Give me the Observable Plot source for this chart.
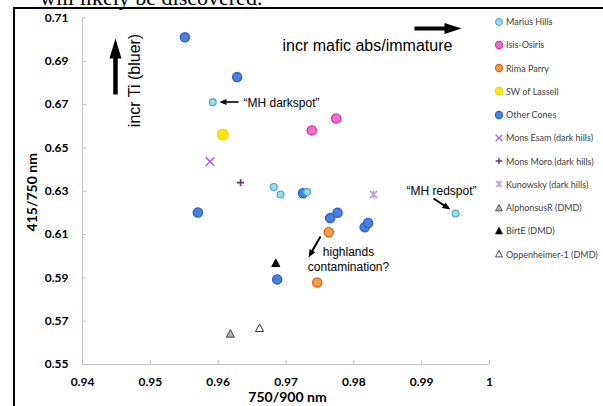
<!DOCTYPE html>
<html><head><meta charset="utf-8">
<script src="https://cdn.jsdelivr.net/npm/d3@7"></script>
<script src="https://cdn.jsdelivr.net/npm/@observablehq/plot@0.6"></script>
<style>
html,body{margin:0;padding:0;background:#fff;overflow:hidden;}
#wrap{position:relative;width:603px;height:406px;overflow:hidden;background:#fff;}
#chart{position:absolute;left:0;top:0;}
#frameL{position:absolute;left:13px;top:7px;width:2px;height:400px;background:#000;}
#frameT{position:absolute;left:13px;top:7px;width:590px;height:2px;background:#000;}
#above{position:absolute;left:40px;top:-13px;font:22px/22px "Liberation Serif",serif;color:#000;white-space:nowrap;}
#legend{position:absolute;left:494px;top:0;font:9px Lato,sans-serif;color:#404040;}
.row{position:absolute;left:0;height:12px;display:flex;align-items:center;white-space:nowrap;}
.row svg{flex:none;}
.row span{margin-left:2px;}
</style></head><body>
<div id="wrap">
 <div id="chart"></div>
 <div id="above">will likely be discovered.</div>
 <div id="frameL"></div><div id="frameT"></div>
 <div id="legend"></div>
</div>
<script>
// ---- data ----
const xTicks = [0.94, 0.95, 0.96, 0.97, 0.98, 0.99, 1];
const yTicks = [0.55, 0.57, 0.59, 0.61, 0.63, 0.65, 0.67, 0.69, 0.71];

const seriesNames = ["Marius Hills", "Isis-Osiris", "Rima Parry", "SW of Lassell", "Other Cones",
  "Mons Esam (dark hills)", "Mons Moro (dark hills)", "Kunowsky (dark hills)",
  "AlphonsusR (DMD)", "BirtE (DMD)", "Oppenheimer-1 (DMD)"];

const mariusHillsX = [0.9592, 0.9682, 0.9692, 0.9731, 0.9950];
const mariusHillsY = [0.6711, 0.6320, 0.6285, 0.6296, 0.6197];
const isisOsirisX = [0.9738, 0.9774];
const isisOsirisY = [0.6581, 0.6636];
const rimaParryX = [0.9763, 0.9746];
const rimaParryY = [0.6111, 0.5879];
const swLassellX = [0.9607];
const swLassellY = [0.6562];
const otherConesX = [0.9551, 0.9628, 0.9570, 0.9725, 0.9765, 0.9776, 0.9816, 0.9821, 0.9687];
const otherConesY = [0.7011, 0.6827, 0.6202, 0.6291, 0.6176, 0.6201, 0.6134, 0.6153, 0.5893];
const monsEsamX = [0.9588];
const monsEsamY = [0.6437];
const monsMoroX = [0.9633];
const monsMoroY = [0.6340];
const kunowskyX = [0.9829];
const kunowskyY = [0.6285];
const alphonsusX = [0.9618];
const alphonsusY = [0.5642];
const birtEX = [0.9685];
const birtEY = [0.5968];
const oppenheimerX = [0.9661];
const oppenheimerY = [0.5668];

// annotations (data coordinates)
const arrowFromX = [0.94486, 0.98894, 0.96300, 0.99174, 0.97509];
const arrowFromY = [0.67468, 0.70515, 0.67121, 0.62665, 0.60911];
const arrowToX   = [0.94486, 0.99587, 0.96020, 0.99425, 0.97332];
const arrowToY   = [0.70053, 0.70515, 0.67121, 0.62157, 0.59941];

const noteText = ["incr Ti (bluer)", "incr mafic abs/immature", "\u201cMH darkspot\u201d", "\u201cMH redspot\u201d", "highlands\ncontamination?"];
const noteX = [0.94752, 0.98201, 0.96373, 0.99292, 0.97921];
const noteY = [0.68114, 0.69776, 0.67121, 0.63035, 0.59895];

// ---- styles ----
const W = 603, H = 406, mL = 82, mR = 114, mT = 17.5, mB = 42;
const arrowStyle = [
  {w: 4.5, hw: 12, hl: 20}, {w: 4, hw: 11, hl: 17},
  {w: 1.6, hw: 6, hl: 7}, {w: 2, hw: 6.5, hl: 8}, {w: 2, hw: 6.5, hl: 8}
];
const noteStyle = [
  {size: 16, rotate: -90, anchor: "middle"}, {size: 16, rotate: 0, anchor: "middle"},
  {size: 12, rotate: 0, anchor: "start"}, {size: 12, rotate: 0, anchor: "middle"},
  {size: 12, rotate: 0, anchor: "middle"}
];

const sym = {
  tri: {draw(c, s) { const r = Math.sqrt(s / Math.PI); c.moveTo(0, -r * 1.05); c.lineTo(r, r * 0.85); c.lineTo(-r, r * 0.85); c.closePath(); }},
  times: {draw(c, s) { const r = Math.sqrt(s / Math.PI); c.moveTo(-r, -r); c.lineTo(r, r); c.moveTo(-r, r); c.lineTo(r, -r); }},
  plus: {draw(c, s) { const r = Math.sqrt(s / Math.PI); c.moveTo(-r, 0); c.lineTo(r, 0); c.moveTo(0, -r); c.lineTo(0, r); }},
  star: {draw(c, s) { const r = Math.sqrt(s / Math.PI); c.moveTo(-r, -r); c.lineTo(r, r); c.moveTo(-r, r); c.lineTo(r, -r); c.moveTo(0, -r * 1.2); c.lineTo(0, r * 1.2); }}
};

const seriesXs = [mariusHillsX, isisOsirisX, rimaParryX, swLassellX, otherConesX, monsEsamX, monsMoroX, kunowskyX, alphonsusX, birtEX, oppenheimerX];
const seriesYs = [mariusHillsY, isisOsirisY, rimaParryY, swLassellY, otherConesY, monsEsamY, monsMoroY, kunowskyY, alphonsusY, birtEY, oppenheimerY];
const seriesStyle = [
  {symbol: "circle", r: 3.4, fill: "#9edbeb", stroke: "#4aa9c8", sw: 1.2, lr: 3.4},
  {symbol: "circle", r: 4.6, fill: "#f36cc9", stroke: "#de2ea3", sw: 1.3, lr: 3.6},
  {symbol: "circle", r: 4.6, fill: "#f39c52", stroke: "#cf650f", sw: 1.3, lr: 3.6},
  {symbol: "circle", r: 5.3, fill: "#ffe900", stroke: "#f2d300", sw: 1.2, lr: 3.8},
  {symbol: "circle", r: 4.6, fill: "#4e80d4", stroke: "#1f5de6", sw: 1.3, lr: 3.6},
  {symbol: sym.times, r: 4.2, fill: "none", stroke: "#b463ef", sw: 1.6, lr: 3.3},
  {symbol: sym.plus, r: 3.6, fill: "none", stroke: "#772a80", sw: 1.6, lr: 3.3},
  {symbol: sym.star, r: 3.6, fill: "none", stroke: "#b8a2db", sw: 1.6, lr: 3.0},
  {symbol: sym.tri, r: 4, fill: "#b5b5b5", stroke: "#444", sw: 1, lr: 3.4},
  {symbol: sym.tri, r: 4, fill: "#000", stroke: "#000", sw: 1, lr: 3.4},
  {symbol: sym.tri, r: 4, fill: "#fff", stroke: "#333", sw: 1, lr: 3.4}
];

// ---- build ----
const px = d3.scaleLinear([0.94, 1], [mL, W - mR]);
const py = d3.scaleLinear([0.55, 0.71], [H - mB, mT]);

const drawOrder = [4, 0, 1, 2, 3, 5, 6, 7, 8, 9, 10];
const dotMarks = drawOrder.map(i => {
  const st = seriesStyle[i];
  const rows = seriesXs[i].map((x, j) => ({x, y: seriesYs[i][j], series: seriesNames[i]}));
  return Plot.dot(rows, {x: "x", y: "y", symbol: st.symbol, r: st.r, fill: st.fill, stroke: st.stroke, strokeWidth: st.sw});
});

const arrowMarks = [];
arrowFromX.forEach((x1, i) => {
  const st = arrowStyle[i];
  const X1 = px(x1), Y1 = py(arrowFromY[i]), X2 = px(arrowToX[i]), Y2 = py(arrowToY[i]);
  const dx = X2 - X1, dy = Y2 - Y1, L = Math.hypot(dx, dy), ux = dx / L, uy = dy / L;
  const ex = px.invert(X2 - ux * st.hl * 0.6), ey = py.invert(Y2 - uy * st.hl * 0.6);
  const angle = Math.atan2(dx, -dy) * 180 / Math.PI;
  const head = {draw(c) { c.moveTo(0, 0); c.lineTo(st.hw / 2, st.hl); c.lineTo(-st.hw / 2, st.hl); c.closePath(); }};
  arrowMarks.push(Plot.link([{x1, y1: arrowFromY[i], x2: ex, y2: ey}], {x1: "x1", y1: "y1", x2: "x2", y2: "y2", stroke: "#000", strokeWidth: st.w}));
  arrowMarks.push(Plot.dot([{x: arrowToX[i], y: arrowToY[i]}], {x: "x", y: "y", symbol: head, rotate: angle, fill: "#000", stroke: "none", r: 3}));
});

const noteMarks = noteText.map((t, i) => Plot.text([{x: noteX[i], y: noteY[i], t}], {
  x: "x", y: "y", text: "t", fontSize: noteStyle[i].size, rotate: noteStyle[i].rotate,
  textAnchor: noteStyle[i].anchor, lineAnchor: "middle", lineHeight: 1.3,
  fontFamily: "Liberation Sans, Arial, sans-serif", fill: "#000"
}));

const chart = Plot.plot({
  width: W, height: H,
  marginLeft: mL, marginRight: mR, marginTop: mT, marginBottom: mB,
  style: {background: "transparent", fontFamily: "Lato, sans-serif", fontSize: "12px", color: "#000", overflow: "visible"},
  x: {domain: [0.94, 1]},
  y: {domain: [0.55, 0.71]},
  marks: [
    Plot.ruleX([0.94], {y1: 0.55, y2: 0.71, stroke: "#c4c4c4", strokeWidth: 1}),
    Plot.ruleY([0.55], {x1: 0.94, x2: 1, stroke: "#c4c4c4", strokeWidth: 1}),
    Plot.ruleX(xTicks, {x: d => d, y1: 0.55, y2: 0.55, insetTop: -4, stroke: "#c4c4c4"}),
    Plot.ruleY(yTicks, {y: d => d, x1: 0.94, x2: 0.94, insetRight: -4, stroke: "#c4c4c4"}),
    Plot.axisX({ticks: xTicks, tickSize: 0, tickPadding: 13, tickFormat: d => d === 1 ? "1" : d.toFixed(2), fontWeight: "bold", fontSize: 12, label: null}),
    Plot.axisY({ticks: yTicks, tickSize: 0, tickPadding: 14, tickFormat: d => d.toFixed(2), fontWeight: "bold", fontSize: 12, label: null}),
    Plot.text(["415/750 nm"], {frameAnchor: "left", text: d => d, rotate: -90, dx: -50, dy: 1, textAnchor: "middle", lineAnchor: "middle", fontWeight: "bold", fontSize: 14}),
    Plot.text(["750/900 nm"], {frameAnchor: "bottom", text: d => d, dx: 1.5, dy: 33, textAnchor: "middle", lineAnchor: "middle", fontWeight: "bold", fontSize: 14}),
    ...dotMarks,
    ...arrowMarks,
    ...noteMarks
  ]
});
document.getElementById("chart").appendChild(chart);

// legend
const legend = d3.select("#legend");
seriesNames.forEach((name, i) => {
  const st = seriesStyle[i];
  const row = legend.append("div").attr("class", "row").style("top", (21.5 + 23.25 * i - 6) + "px");
  const svg = row.append("svg").attr("width", 10).attr("height", 12);
  const symObj = typeof st.symbol === "string" ? d3.symbolCircle : st.symbol;
  svg.append("path")
    .attr("transform", "translate(5,6)")
    .attr("d", d3.symbol(symObj, Math.PI * st.lr * st.lr)())
    .attr("fill", st.fill).attr("stroke", st.stroke).attr("stroke-width", st.sw * 0.85);
  row.append("span").text(name);
});
</script>
</body></html>
